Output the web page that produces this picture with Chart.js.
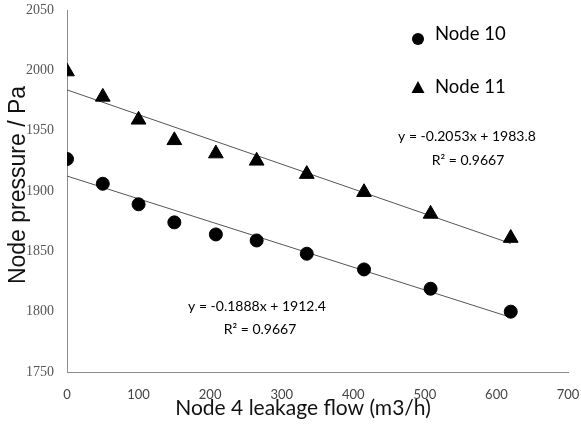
<!DOCTYPE html>
<html><head><meta charset="utf-8">
<script src="https://cdn.jsdelivr.net/npm/chart.js@4.4.0/dist/chart.umd.min.js"></script>
<style>html,body{margin:0;padding:0;background:#fff}#wrap{width:581px;height:428px}</style>
</head><body><div id="wrap"><canvas id="c" width="581" height="428"></canvas></div>
<script>
const flow = [0, 50, 100, 150, 208, 265, 335, 415, 508, 620];
const node10 = [1926.5, 1906, 1889, 1874, 1864, 1859, 1848, 1835, 1819, 1800];
const node11 = [1999, 1978, 1959, 1942, 1931, 1925, 1914, 1899, 1881, 1861];
const trendX = [0, 620];
const trend10 = [1912.4, 1795.3];
const trend11 = [1983.8, 1856.5];
const xTicks = [0, 100, 200, 300, 400, 500, 600, 700];
const yTicks = [1750, 1800, 1850, 1900, 1950, 2000, 2050];
const seriesNames = ['Node 10', 'Node 11'];
const eq10 = ['y = -0.1888x + 1912.4', 'R² = 0.9667'];
const eq11 = ['y = -0.2053x + 1983.8', 'R² = 0.9667'];
const xTitle = 'Node 4 leakage flow (m3/h)';
const yTitle = 'Node pressure / Pa';

const pts = (xs, ys) => xs.map((x, i) => ({x, y: ys[i]}));
const SANS = 'Lato, "Liberation Sans", sans-serif';

const deco = {
  id: 'deco',
  afterDraw(chart) {
    const ctx = chart.ctx;
    ctx.save();
    ctx.fillStyle = '#000';
    // legend
    ctx.beginPath(); ctx.arc(418, 39, 6, 0, Math.PI*2); ctx.fill();
    ctx.beginPath(); ctx.moveTo(418, 81); ctx.lineTo(424.5, 93); ctx.lineTo(411.5, 93); ctx.closePath(); ctx.fill();
    ctx.font = '18.5px ' + SANS;
    ctx.textBaseline = 'middle'; ctx.textAlign = 'left';
    ctx.fillText(seriesNames[0], 435, 34);
    ctx.fillText(seriesNames[1], 435, 87);
    // equations
    ctx.font = '14px ' + SANS;
    ctx.textAlign = 'center';
    ctx.fillText(eq11[0], 467, 136);
    ctx.fillText(eq11[1], 468, 160);
    ctx.fillText(eq10[0], 257, 306);
    ctx.fillText(eq10[1], 260, 329);
    // axis titles
    ctx.fillStyle = '#111';
    ctx.font = '21px ' + SANS;
    ctx.fillText(xTitle, 303, 408);
    ctx.save();
    ctx.translate(19, 185);
    ctx.rotate(-Math.PI/2);
    ctx.font = '23px "Liberation Sans", Arial, sans-serif';
    ctx.fillText(yTitle, 0, 0);
    ctx.restore();
    ctx.restore();
  }
};

const noPad = s => { s.paddingTop = 0; s.paddingBottom = 0; s.paddingLeft = 0; s.paddingRight = 0; };

new Chart(document.getElementById('c'), {
  type: 'scatter',
  data: {
    datasets: [
      {label: seriesNames[0], data: pts(flow, node10), pointStyle: 'circle', pointRadius: 6.5, pointHoverRadius: 6.5,
       backgroundColor: '#000', borderColor: '#000', order: 1},
      {label: seriesNames[1], data: pts(flow, node11), pointStyle: 'triangle', pointRadius: 8.5, pointHoverRadius: 8.5,
       backgroundColor: '#000', borderColor: '#000', order: 1},
      {label: 'trend10', type: 'line', data: pts(trendX, trend10), borderColor: '#555', borderWidth: 1, pointRadius: 0, order: 2},
      {label: 'trend11', type: 'line', data: pts(trendX, trend11), borderColor: '#555', borderWidth: 1, pointRadius: 0, order: 2}
    ]
  },
  options: {
    responsive: false,
    animation: false,
    layout: {padding: {top: 10, right: 13, left: 0, bottom: 0}},
    plugins: {legend: {display: false}, tooltip: {enabled: false}},
    scales: {
      x: {
        type: 'linear', min: 0, max: 700,
        afterBuildTicks: s => { s.ticks = xTicks.map(v => ({value: v})); },
        afterFit: s => { s.height = 56; noPad(s); },
        grid: {display: false, drawTicks: false},
        border: {display: true, color: '#8c8c8c', width: 1},
        ticks: {padding: 15, color: '#444', font: {family: SANS, size: 13}, maxRotation: 0,
                callback: v => String(v)}
      },
      y: {
        type: 'linear', min: 1750, max: 2050,
        afterBuildTicks: s => { s.ticks = yTicks.map(v => ({value: v})); },
        afterFit: s => { s.width = 67; noPad(s); },
        grid: {display: false, drawTicks: false},
        border: {display: true, color: '#8c8c8c', width: 1},
        ticks: {padding: 13, color: '#555', font: {family: "'Liberation Serif', serif", size: 14},
                callback: v => String(v)}
      }
    }
  },
  plugins: [deco]
});
</script></body></html>
